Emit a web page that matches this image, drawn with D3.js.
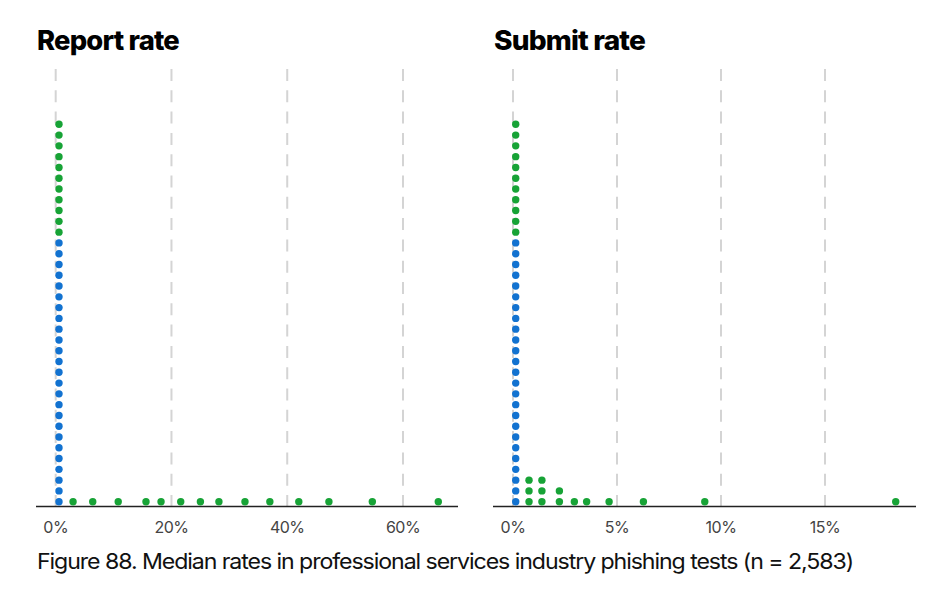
<!DOCTYPE html>
<html>
<head>
<meta charset="utf-8">
<script src="https://cdn.jsdelivr.net/npm/d3@7"></script>
<style>
  html, body { margin: 0; padding: 0; background: #fff; }
  svg { display: block; }
</style>
</head>
<body>
<svg id="chart" width="944" height="601"></svg>
<script>
// ---- Data (values in %) ----
const reportBins   = [0.57, 3.0, 6.4, 10.8, 15.6, 18.2, 21.6, 25.0, 28.2, 32.7, 37.0, 42.0, 47.2, 54.7, 66.1];
const reportBlue   = [25, 0, 0, 0, 0, 0, 0, 0, 0, 0, 0, 0, 0, 0, 0];
const reportGreen  = [11, 1, 1, 1, 1, 1, 1, 1, 1, 1, 1, 1, 1, 1, 1];
const reportTicks  = [0, 20, 40, 60];

const submitBins   = [0.13, 0.77, 1.39, 2.23, 2.95, 3.54, 4.62, 6.27, 9.22, 18.4];
const submitBlue   = [25, 0, 0, 0, 0, 0, 0, 0, 0, 0];
const submitGreen  = [11, 3, 3, 2, 1, 1, 1, 1, 1, 1];
const submitTicks  = [0, 5, 10, 15];

const titles  = ["Report rate", "Submit rate"];
const caption = "Figure 88. Median rates in professional services industry phishing tests (n = 2,583)";

// ---- Styles ----
const BLUE = "#1272d0", GREEN = "#17a336";
const svg = d3.select("#chart");
const FONT = "Inter, Roboto, 'Liberation Sans', sans-serif";

const axisY = 506.5, gridTop = 69;
const yDot = d3.scaleLinear().domain([0, 35]).range([501.7, 124.3]);

const panels = [
  { title: titles[0], bins: reportBins, blue: reportBlue, green: reportGreen, ticks: reportTicks,
    x: d3.scaleLinear().domain([0, 60]).range([55.7, 403]), axis: [36, 458], tx: 37, tw: 142 },
  { title: titles[1], bins: submitBins, blue: submitBlue, green: submitGreen, ticks: submitTicks,
    x: d3.scaleLinear().domain([0, 15]).range([513, 825]), axis: [493, 916], tx: 494, tw: 151 }
];

panels.forEach(p => {
  const g = svg.append("g");
  // title
  g.append("text").attr("x", p.tx).attr("y", 50)
    .attr("font-family", FONT).attr("font-weight", 800).attr("font-size", 27)
    .attr("letter-spacing", -0.8).attr("fill", "#000")
    .attr("textLength", p.tw).attr("lengthAdjust", "spacingAndGlyphs")
    .text(p.title);

  // gridlines
  g.selectAll(".grid").data(p.ticks).join("line")
    .attr("x1", d => p.x(d)).attr("x2", d => p.x(d))
    .attr("y1", gridTop).attr("y2", axisY)
    .attr("stroke", "#d4d4d4").attr("stroke-width", 2)
    .attr("stroke-dasharray", "12 9.3");

  // axis baseline
  g.append("line").attr("x1", p.axis[0]).attr("x2", p.axis[1])
    .attr("y1", axisY).attr("y2", axisY)
    .attr("stroke", "#222").attr("stroke-width", 1.5);

  // tick labels
  g.selectAll(".tl").data(p.ticks).join("text")
    .attr("x", d => p.x(d)).attr("y", 533)
    .attr("text-anchor", "middle")
    .attr("font-family", FONT).attr("font-size", 16).attr("fill", "#444")
    .attr("letter-spacing", -0.5)
    .text(d => d + "%");

  // dots
  const dots = [];
  p.bins.forEach((v, i) => {
    const nb = p.blue[i], ng = p.green[i];
    for (let k = 0; k < nb + ng; k++) {
      dots.push({ v, k, color: k < nb ? BLUE : GREEN });
    }
  });
  g.selectAll(".dot").data(dots).join("circle")
    .attr("cx", d => p.x(d.v)).attr("cy", d => yDot(d.k))
    .attr("r", 3.7).attr("fill", d => d.color);
});

// caption
svg.append("text").attr("x", 37).attr("y", 569)
  .attr("font-family", FONT).attr("font-size", 21.5).attr("fill", "#111")
  .attr("letter-spacing", -1)
  .attr("textLength", 816).attr("lengthAdjust", "spacingAndGlyphs")
  .text(caption);
</script>
</body>
</html>
